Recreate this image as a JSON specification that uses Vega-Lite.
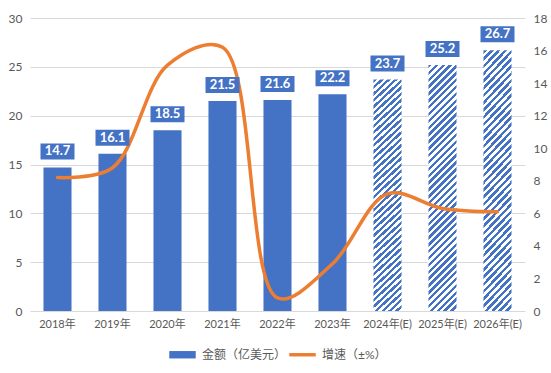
{
  "$schema": "https://vega.github.io/schema/vega-lite/v6.json",
  "width": 495,
  "height": 293,
  "autosize": {"type": "none"},
  "padding": {"left": 30, "top": 18, "right": 26, "bottom": 62},
  "background": "white",
  "config": {"view": {"stroke": null}, "font": "Lato, Noto Sans CJK SC"},
  "data": {"values": [
    {"year": "2018年", "amount": 14.7, "growth": 8.2, "type": "actual"},
    {"year": "2019年", "amount": 16.1, "growth": 8.8, "type": "actual"},
    {"year": "2020年", "amount": 18.5, "growth": 15.1, "type": "actual"},
    {"year": "2021年", "amount": 21.5, "growth": 16.2, "type": "actual"},
    {"year": "2022年", "amount": 21.6, "growth": 0.8, "type": "actual"},
    {"year": "2023年", "amount": 22.2, "growth": 2.9, "type": "actual"},
    {"year": "2024年(E)", "amount": 23.7, "growth": 7.2, "type": "estimate"},
    {"year": "2025年(E)", "amount": 25.2, "growth": 6.3, "type": "estimate"},
    {"year": "2026年(E)", "amount": 26.7, "growth": 6.1, "type": "estimate"}
  ]},
  "encoding": {
    "x": {
      "field": "year", "type": "nominal", "sort": null,
      "scale": {"paddingInner": 0.49, "paddingOuter": 0.245},
      "axis": {"title": null, "labelAngle": 0, "ticks": false, "domain": false, "labelPadding": 7, "labelFontSize": 11, "labelColor": "#595959", "labelFont": "Lato, Noto Sans CJK SC"}
    }
  },
  "layer": [
    {
      "encoding": {
        "y": {"field": "amount", "type": "quantitative", "scale": {"domain": [0, 30], "nice": false},
          "axis": {"title": null, "orient": "left", "values": [0, 5, 10, 15, 20, 25, 30], "grid": true, "gridColor": "#d9d9d9", "gridWidth": 1, "domain": false, "ticks": false, "labelPadding": 8, "labelFontSize": 12, "labelColor": "#595959"}}
      },
      "layer": [
        {
          "transform": [{"filter": "datum.type === 'actual'"}],
          "mark": {"type": "bar"},
          "encoding": {
            "color": {"datum": "金额（亿美元）", "type": "nominal",
              "scale": {"domain": ["金额（亿美元）", "增速（±%）"], "range": ["#4472C4", "#ED7D31"]},
              "legend": {"orient": "none", "legendX": 139, "legendY": 323, "direction": "horizontal", "title": null, "labelFontSize": 12, "labelColor": "#595959", "labelOffset": 6, "columnPadding": 2, "symbolSize": 700,
                "encode": {"symbols": {"update": {
                  "shape": {"signal": "datum.value === '金额（亿美元）' ? 'M-1,-0.28H1V0.28H-1Z' : 'M-1,-0.13H1V0.13H-1Z'"},
                  "fill": {"signal": "scale('color', datum.value)"},
                  "stroke": {"value": "transparent"},
                  "strokeWidth": {"value": 0},
                  "opacity": {"value": 1}
                }}}}
            }
          }
        },
        {
          "transform": [{"filter": "datum.type === 'estimate'"}],
          "mark": {"type": "bar", "fill": {
            "gradient": "linear", "x1": 0, "y1": 0, "x2": 0.125, "y2": 1.1,
            "stops": [
              {"offset": 0, "color": "#4472C4"}, {"offset": 0.0125, "color": "#4472C4"}, {"offset": 0.0125, "color": "#ffffff"}, {"offset": 0.025, "color": "#ffffff"},
              {"offset": 0.025, "color": "#4472C4"}, {"offset": 0.0375, "color": "#4472C4"}, {"offset": 0.0375, "color": "#ffffff"}, {"offset": 0.05, "color": "#ffffff"},
              {"offset": 0.05, "color": "#4472C4"}, {"offset": 0.0625, "color": "#4472C4"}, {"offset": 0.0625, "color": "#ffffff"}, {"offset": 0.075, "color": "#ffffff"},
              {"offset": 0.075, "color": "#4472C4"}, {"offset": 0.0875, "color": "#4472C4"}, {"offset": 0.0875, "color": "#ffffff"}, {"offset": 0.1, "color": "#ffffff"},
              {"offset": 0.1, "color": "#4472C4"}, {"offset": 0.1125, "color": "#4472C4"}, {"offset": 0.1125, "color": "#ffffff"}, {"offset": 0.125, "color": "#ffffff"},
              {"offset": 0.125, "color": "#4472C4"}, {"offset": 0.1375, "color": "#4472C4"}, {"offset": 0.1375, "color": "#ffffff"}, {"offset": 0.15, "color": "#ffffff"},
              {"offset": 0.15, "color": "#4472C4"}, {"offset": 0.1625, "color": "#4472C4"}, {"offset": 0.1625, "color": "#ffffff"}, {"offset": 0.175, "color": "#ffffff"},
              {"offset": 0.175, "color": "#4472C4"}, {"offset": 0.1875, "color": "#4472C4"}, {"offset": 0.1875, "color": "#ffffff"}, {"offset": 0.2, "color": "#ffffff"},
              {"offset": 0.2, "color": "#4472C4"}, {"offset": 0.2125, "color": "#4472C4"}, {"offset": 0.2125, "color": "#ffffff"}, {"offset": 0.225, "color": "#ffffff"},
              {"offset": 0.225, "color": "#4472C4"}, {"offset": 0.2375, "color": "#4472C4"}, {"offset": 0.2375, "color": "#ffffff"}, {"offset": 0.25, "color": "#ffffff"},
              {"offset": 0.25, "color": "#4472C4"}, {"offset": 0.2625, "color": "#4472C4"}, {"offset": 0.2625, "color": "#ffffff"}, {"offset": 0.275, "color": "#ffffff"},
              {"offset": 0.275, "color": "#4472C4"}, {"offset": 0.2875, "color": "#4472C4"}, {"offset": 0.2875, "color": "#ffffff"}, {"offset": 0.3, "color": "#ffffff"},
              {"offset": 0.3, "color": "#4472C4"}, {"offset": 0.3125, "color": "#4472C4"}, {"offset": 0.3125, "color": "#ffffff"}, {"offset": 0.325, "color": "#ffffff"},
              {"offset": 0.325, "color": "#4472C4"}, {"offset": 0.3375, "color": "#4472C4"}, {"offset": 0.3375, "color": "#ffffff"}, {"offset": 0.35, "color": "#ffffff"},
              {"offset": 0.35, "color": "#4472C4"}, {"offset": 0.3625, "color": "#4472C4"}, {"offset": 0.3625, "color": "#ffffff"}, {"offset": 0.375, "color": "#ffffff"},
              {"offset": 0.375, "color": "#4472C4"}, {"offset": 0.3875, "color": "#4472C4"}, {"offset": 0.3875, "color": "#ffffff"}, {"offset": 0.4, "color": "#ffffff"},
              {"offset": 0.4, "color": "#4472C4"}, {"offset": 0.4125, "color": "#4472C4"}, {"offset": 0.4125, "color": "#ffffff"}, {"offset": 0.425, "color": "#ffffff"},
              {"offset": 0.425, "color": "#4472C4"}, {"offset": 0.4375, "color": "#4472C4"}, {"offset": 0.4375, "color": "#ffffff"}, {"offset": 0.45, "color": "#ffffff"},
              {"offset": 0.45, "color": "#4472C4"}, {"offset": 0.4625, "color": "#4472C4"}, {"offset": 0.4625, "color": "#ffffff"}, {"offset": 0.475, "color": "#ffffff"},
              {"offset": 0.475, "color": "#4472C4"}, {"offset": 0.4875, "color": "#4472C4"}, {"offset": 0.4875, "color": "#ffffff"}, {"offset": 0.5, "color": "#ffffff"},
              {"offset": 0.5, "color": "#4472C4"}, {"offset": 0.5125, "color": "#4472C4"}, {"offset": 0.5125, "color": "#ffffff"}, {"offset": 0.525, "color": "#ffffff"},
              {"offset": 0.525, "color": "#4472C4"}, {"offset": 0.5375, "color": "#4472C4"}, {"offset": 0.5375, "color": "#ffffff"}, {"offset": 0.55, "color": "#ffffff"},
              {"offset": 0.55, "color": "#4472C4"}, {"offset": 0.5625, "color": "#4472C4"}, {"offset": 0.5625, "color": "#ffffff"}, {"offset": 0.575, "color": "#ffffff"},
              {"offset": 0.575, "color": "#4472C4"}, {"offset": 0.5875, "color": "#4472C4"}, {"offset": 0.5875, "color": "#ffffff"}, {"offset": 0.6, "color": "#ffffff"},
              {"offset": 0.6, "color": "#4472C4"}, {"offset": 0.6125, "color": "#4472C4"}, {"offset": 0.6125, "color": "#ffffff"}, {"offset": 0.625, "color": "#ffffff"},
              {"offset": 0.625, "color": "#4472C4"}, {"offset": 0.6375, "color": "#4472C4"}, {"offset": 0.6375, "color": "#ffffff"}, {"offset": 0.65, "color": "#ffffff"},
              {"offset": 0.65, "color": "#4472C4"}, {"offset": 0.6625, "color": "#4472C4"}, {"offset": 0.6625, "color": "#ffffff"}, {"offset": 0.675, "color": "#ffffff"},
              {"offset": 0.675, "color": "#4472C4"}, {"offset": 0.6875, "color": "#4472C4"}, {"offset": 0.6875, "color": "#ffffff"}, {"offset": 0.7, "color": "#ffffff"},
              {"offset": 0.7, "color": "#4472C4"}, {"offset": 0.7125, "color": "#4472C4"}, {"offset": 0.7125, "color": "#ffffff"}, {"offset": 0.725, "color": "#ffffff"},
              {"offset": 0.725, "color": "#4472C4"}, {"offset": 0.7375, "color": "#4472C4"}, {"offset": 0.7375, "color": "#ffffff"}, {"offset": 0.75, "color": "#ffffff"},
              {"offset": 0.75, "color": "#4472C4"}, {"offset": 0.7625, "color": "#4472C4"}, {"offset": 0.7625, "color": "#ffffff"}, {"offset": 0.775, "color": "#ffffff"},
              {"offset": 0.775, "color": "#4472C4"}, {"offset": 0.7875, "color": "#4472C4"}, {"offset": 0.7875, "color": "#ffffff"}, {"offset": 0.8, "color": "#ffffff"},
              {"offset": 0.8, "color": "#4472C4"}, {"offset": 0.8125, "color": "#4472C4"}, {"offset": 0.8125, "color": "#ffffff"}, {"offset": 0.825, "color": "#ffffff"},
              {"offset": 0.825, "color": "#4472C4"}, {"offset": 0.8375, "color": "#4472C4"}, {"offset": 0.8375, "color": "#ffffff"}, {"offset": 0.85, "color": "#ffffff"},
              {"offset": 0.85, "color": "#4472C4"}, {"offset": 0.8625, "color": "#4472C4"}, {"offset": 0.8625, "color": "#ffffff"}, {"offset": 0.875, "color": "#ffffff"},
              {"offset": 0.875, "color": "#4472C4"}, {"offset": 0.8875, "color": "#4472C4"}, {"offset": 0.8875, "color": "#ffffff"}, {"offset": 0.9, "color": "#ffffff"},
              {"offset": 0.9, "color": "#4472C4"}, {"offset": 0.9125, "color": "#4472C4"}, {"offset": 0.9125, "color": "#ffffff"}, {"offset": 0.925, "color": "#ffffff"},
              {"offset": 0.925, "color": "#4472C4"}, {"offset": 0.9375, "color": "#4472C4"}, {"offset": 0.9375, "color": "#ffffff"}, {"offset": 0.95, "color": "#ffffff"},
              {"offset": 0.95, "color": "#4472C4"}, {"offset": 0.9625, "color": "#4472C4"}, {"offset": 0.9625, "color": "#ffffff"}, {"offset": 0.975, "color": "#ffffff"},
              {"offset": 0.975, "color": "#4472C4"}, {"offset": 0.9875, "color": "#4472C4"}, {"offset": 0.9875, "color": "#ffffff"}, {"offset": 1, "color": "#ffffff"}
            ]
          }}
        }
      ]
    },
    {
      "mark": {"type": "line", "interpolate": "catmull-rom", "strokeWidth": 3.5, "strokeCap": "round", "strokeJoin": "round"},
      "encoding": {
        "y": {"field": "growth", "type": "quantitative", "scale": {"domain": [0, 18], "nice": false},
          "axis": {"title": null, "orient": "right", "values": [0, 2, 4, 6, 8, 10, 12, 14, 16, 18], "grid": false, "domain": false, "ticks": false, "labelPadding": 8, "labelFontSize": 12, "labelColor": "#595959"}},
        "color": {"datum": "增速（±%）", "type": "nominal",
          "scale": {"domain": ["金额（亿美元）", "增速（±%）"], "range": ["#4472C4", "#ED7D31"]}}
      }
    },
    {
      "encoding": {
        "y": {"field": "amount", "type": "quantitative", "scale": {"domain": [0, 30], "nice": false}, "axis": null}
      },
      "layer": [
        {
          "mark": {"type": "bar", "fill": "#4472C4", "width": 34, "yOffset": -24, "y2Offset": -8},
          "encoding": {"y2": {"field": "amount"}}
        },
        {
          "mark": {"type": "text", "dy": -16, "baseline": "middle", "align": "center", "fill": "white", "fontWeight": "bold", "fontSize": 13, "font": "Lato"},
          "encoding": {"text": {"field": "amount", "type": "quantitative", "format": ".1f"}}
        }
      ]
    }
  ],
  "resolve": {"scale": {"y": "independent"}}
}
